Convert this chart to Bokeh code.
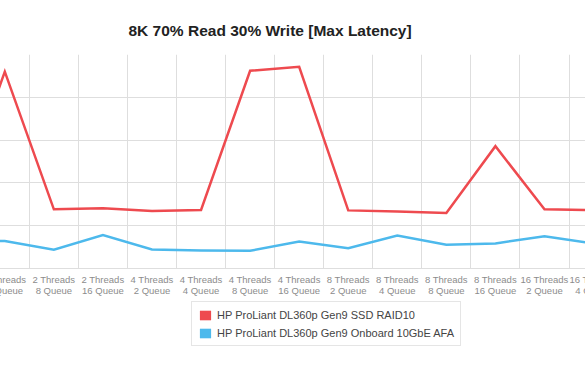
from bokeh.plotting import figure
from bokeh.layouts import column
from bokeh.models import Range1d, FixedTicker, Grid, Legend, LegendItem
from bokeh.embed import file_html
from bokeh.resources import INLINE

# ---- data ----
categories = [
    "2 Threads\n2 Queue", "2 Threads\n4 Queue", "2 Threads\n8 Queue", "2 Threads\n16 Queue",
    "4 Threads\n2 Queue", "4 Threads\n4 Queue", "4 Threads\n8 Queue", "4 Threads\n16 Queue",
    "8 Threads\n2 Queue", "8 Threads\n4 Queue", "8 Threads\n8 Queue", "8 Threads\n16 Queue",
    "16 Threads\n2 Queue", "16 Threads\n4 Queue",
]
ssd_raid10 = [68, 230, 69.1, 70.3, 67.1, 68.3, 231, 235.7, 67.9, 66.7, 64.8, 142.9, 69.1, 68.3]
onboard_afa = [32, 32.2, 21.9, 39.0, 22.2, 21.1, 20.7, 31.6, 23.8, 38.6, 27.8, 29.3, 37.8, 29.3]
series_names = ["HP ProLiant DL360p Gen9 SSD RAID10", "HP ProLiant DL360p Gen9 Onboard 10GbE AFA"]
y_ticks = [0, 50, 100, 150, 200, 250]

RED = "#ee4a4f"
BLUE = "#4db9ec"
GRID = "#dedede"

idx = list(range(len(categories)))

# the reference is a crop of a wider chart: the canvas overhangs the window
L_OVER, R_OVER = 60, 120
p = figure(
    width=585 + L_OVER + R_OVER, height=300,
    output_backend="svg", toolbar_location=None,
    x_range=Range1d(-0.3107, 15.282), y_range=Range1d(y_ticks[0], y_ticks[-1]),
    y_axis_location=None,
    min_border_left=0, min_border_right=0, min_border_top=54, min_border_bottom=32,
    margin=(0, -R_OVER, 0, -L_OVER),
    sizing_mode="fixed",
)
p.outline_line_color = None
p.background_fill_color = "white"
p.border_fill_color = "white"

# title
p.title.text = "8K 70% Read 30% Write [Max Latency]"
p.title.align = "left"
p.title.offset = 128 + L_OVER
p.title.text_font = "Liberation Sans"
p.title.text_font_size = "15.5px"
p.title.text_font_style = "bold"
p.title.text_color = "#222222"
p.title.standoff = 31

# x axis
xa = p.xaxis[0]
xa.ticker = FixedTicker(ticks=idx)
xa.major_label_overrides = {i: c for i, c in zip(idx, categories)}
xa.major_tick_line_color = None
xa.minor_tick_line_color = None
xa.axis_line_color = GRID
xa.major_label_text_font = "Liberation Sans"
xa.major_label_text_font_size = "9.5px"
xa.major_label_text_line_height = 1.0
xa.major_label_text_color = "#8c8c8c"
xa.major_label_standoff = -1

# grids
p.xgrid.ticker = FixedTicker(ticks=[i + 0.5 for i in idx])
p.xgrid.grid_line_color = GRID
p.add_layout(Grid(dimension=1, ticker=FixedTicker(ticks=y_ticks), grid_line_color=GRID))

# lines
p.line(idx, ssd_raid10, line_color=RED, line_width=2.5, line_join="miter")
p.line(idx, onboard_afa, line_color=BLUE, line_width=2.5, line_join="miter")

# ---- legend strip (separate small figure below the chart) ----
lg = figure(
    width=585, height=78, output_backend="svg", toolbar_location=None,
    x_range=Range1d(0, 1), y_range=Range1d(0, 1),
    x_axis_location=None, y_axis_location=None,
    min_border=0, sizing_mode="fixed",
)
lg.outline_line_color = None
lg.grid.visible = False
q_red = lg.quad(left=[0], right=[0], top=[0], bottom=[0], fill_color=RED, line_alpha=0)
q_blue = lg.quad(left=[0], right=[0], top=[0], bottom=[0], fill_color=BLUE, line_alpha=0)

legend = Legend(
    items=[LegendItem(label=series_names[0], renderers=[q_red]),
           LegendItem(label=series_names[1], renderers=[q_blue])],
    location=(191, 32),
    border_line_color="#cccccc",
    background_fill_color="white",
    label_text_font="Liberation Sans",
    label_text_font_size="11px",
    label_text_color="#444444",
    glyph_width=14, glyph_height=12,
    label_height=13, spacing=5, padding=6, margin=0,
    label_standoff=5,
)
lg.add_layout(legend, "center")

root = column(p, lg, spacing=0, styles={"overflow": "hidden"})

open("out.html", "w").write(file_html(root, INLINE))
